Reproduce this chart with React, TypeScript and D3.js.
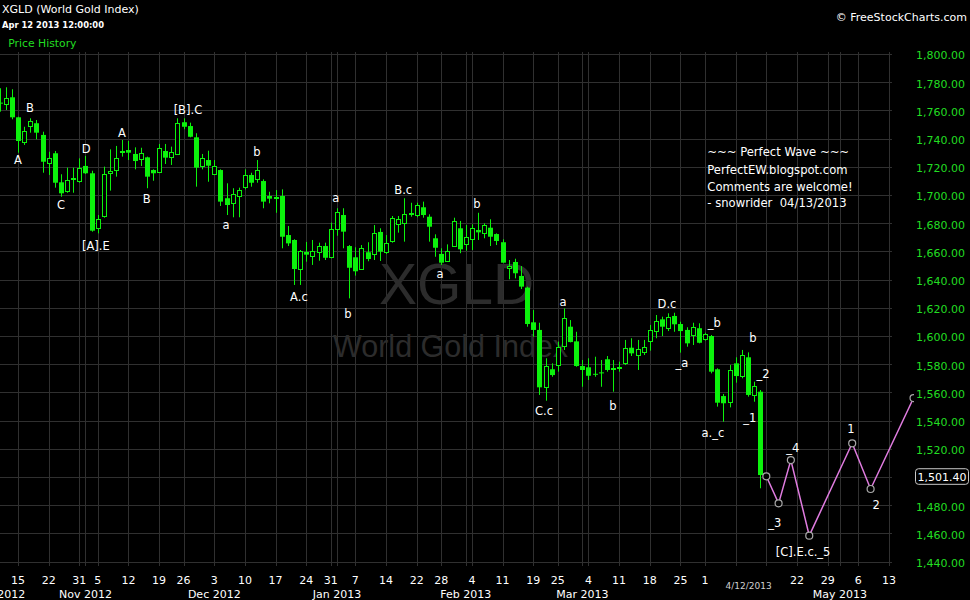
import React from "react";
import * as d3 from "d3";

// Session calendar (US market closures, incl. the Sandy shutdown)
const FIRST_SESSION = "2012-10-10";
const CALENDAR_END = "2013-05-20";
const MARKET_HOLIDAYS = [
  "2012-10-29", "2012-10-30", "2012-11-22", "2012-12-25",
  "2013-01-01", "2013-01-21", "2013-02-18", "2013-03-29",
];

// Daily OHLC from 2012-10-10 to 2013-04-12
const opens = [
  1765.5, 1764.3, 1769.3, 1755.1, 1737.8, 1749.1, 1750.9, 1742.6, 1722.5, 1729.6,
  1709.0, 1702.8, 1711.5, 1709.9, 1720.6, 1715.4, 1676.4, 1684.6, 1715.4, 1717.2,
  1730.3, 1731.9, 1729.1, 1725.3, 1726.7, 1717.7, 1716.1, 1731.2, 1727.2, 1729.1,
  1751.6, 1748.9, 1740.9, 1720.1, 1724.8, 1714.9, 1717.7, 1697.7, 1694.1, 1699.5,
  1705.5, 1714.2, 1711.3, 1709.9, 1699.3, 1698.3, 1699.3, 1671.6, 1668.1, 1647.7,
  1659.6, 1657.0, 1659.4, 1663.8, 1655.8, 1676.4, 1685.8, 1663.8, 1655.8, 1647.3,
  1659.4, 1658.2, 1673.8, 1659.4, 1666.9, 1679.2, 1679.9, 1686.5, 1686.0, 1691.3,
  1684.6, 1669.3, 1658.2, 1653.4, 1663.8, 1676.4, 1665.0, 1668.6, 1675.2, 1672.8,
  1676.8, 1672.3, 1666.5, 1648.0, 1652.5, 1642.6, 1634.3, 1609.7, 1604.3, 1564.0,
  1576.4, 1579.4, 1592.9, 1606.6, 1596.2, 1578.7, 1577.8, 1573.2, 1574.2, 1583.5,
  1576.8, 1577.8, 1580.6, 1591.7, 1586.5, 1588.9, 1596.7, 1603.5, 1611.8, 1605.5,
  1614.2, 1608.5, 1604.3, 1600.7, 1605.5, 1597.7, 1600.0, 1576.4, 1557.4, 1553.4,
  1580.6, 1571.6, 1584.9, 1558.2, 1560.5,
];
const highs = [
  1775.7, 1776.4, 1775.0, 1755.5, 1748.4, 1754.4, 1753.2, 1744.9, 1730.7, 1731.2,
  1714.7, 1719.4, 1719.4, 1726.0, 1727.7, 1717.2, 1685.8, 1720.1, 1732.4, 1734.8,
  1739.0, 1738.3, 1733.8, 1733.5, 1727.2, 1718.2, 1736.2, 1736.2, 1734.3, 1754.4,
  1754.4, 1751.3, 1743.8, 1729.1, 1731.4, 1724.8, 1718.2, 1708.3, 1704.8, 1705.2,
  1718.2, 1715.8, 1724.8, 1711.1, 1702.3, 1703.5, 1704.0, 1678.0, 1668.6, 1661.0,
  1666.7, 1668.1, 1666.2, 1666.2, 1680.4, 1690.6, 1690.6, 1664.5, 1662.9, 1664.5,
  1666.5, 1678.7, 1676.4, 1671.6, 1685.1, 1685.1, 1697.7, 1694.5, 1694.5, 1695.3,
  1686.3, 1672.1, 1662.2, 1665.0, 1683.9, 1681.6, 1678.7, 1679.2, 1687.4, 1679.9,
  1682.8, 1672.8, 1668.6, 1653.9, 1654.8, 1649.6, 1635.0, 1618.4, 1609.4, 1584.2,
  1580.6, 1596.0, 1619.6, 1611.3, 1603.0, 1583.0, 1584.2, 1585.3, 1583.0, 1585.8,
  1583.0, 1581.8, 1597.2, 1598.4, 1597.2, 1597.2, 1607.8, 1614.9, 1613.7, 1616.1,
  1616.5, 1610.1, 1606.2, 1609.4, 1609.0, 1602.3, 1600.7, 1577.1, 1558.9, 1579.4,
  1584.9, 1590.1, 1588.4, 1567.6, 1561.7,
];
const lows = [
  1759.1, 1760.3, 1753.7, 1730.0, 1735.5, 1744.2, 1739.5, 1715.8, 1714.2, 1705.2,
  1698.8, 1701.6, 1701.6, 1708.7, 1714.9, 1674.0, 1672.8, 1683.9, 1703.1, 1713.0,
  1727.2, 1724.8, 1718.2, 1720.6, 1704.8, 1710.1, 1715.8, 1722.0, 1721.3, 1728.4,
  1746.6, 1740.9, 1705.9, 1718.2, 1709.4, 1714.2, 1692.2, 1685.8, 1684.2, 1684.2,
  1704.0, 1705.9, 1708.7, 1690.6, 1694.1, 1687.4, 1662.2, 1663.8, 1636.2, 1636.2,
  1652.7, 1650.4, 1653.4, 1653.9, 1655.1, 1671.1, 1662.2, 1626.7, 1642.8, 1646.8,
  1653.0, 1653.9, 1653.2, 1658.2, 1666.2, 1673.3, 1666.9, 1684.6, 1684.2, 1683.9,
  1666.9, 1656.2, 1650.4, 1652.5, 1663.3, 1658.7, 1660.5, 1661.0, 1668.1, 1669.3,
  1663.8, 1664.5, 1652.0, 1640.2, 1640.9, 1633.3, 1606.6, 1599.5, 1558.2, 1554.1,
  1571.1, 1574.7, 1590.1, 1595.5, 1578.2, 1564.0, 1568.8, 1571.1, 1564.0, 1574.7,
  1560.5, 1574.7, 1579.4, 1585.8, 1575.9, 1586.5, 1589.6, 1598.4, 1600.0, 1603.5,
  1603.0, 1588.2, 1592.4, 1593.6, 1594.8, 1596.7, 1573.5, 1549.9, 1539.2, 1549.4,
  1566.9, 1570.0, 1557.0, 1553.4, 1492.0,
];
const closes = [
  1765.0, 1768.6, 1755.1, 1738.3, 1745.6, 1752.7, 1744.2, 1723.6, 1726.0, 1708.7,
  1701.2, 1710.6, 1712.0, 1718.9, 1715.4, 1674.7, 1682.8, 1714.7, 1717.0, 1726.0,
  1731.2, 1730.0, 1724.1, 1729.6, 1713.0, 1715.4, 1733.1, 1726.5, 1730.7, 1750.9,
  1748.4, 1741.3, 1719.4, 1726.0, 1720.8, 1720.8, 1695.3, 1692.9, 1700.5, 1703.5,
  1714.2, 1708.7, 1717.7, 1695.3, 1697.4, 1698.9, 1670.4, 1665.7, 1647.5, 1660.3,
  1657.7, 1660.3, 1663.8, 1655.5, 1675.7, 1688.2, 1674.0, 1648.4, 1645.9, 1662.2,
  1654.6, 1672.8, 1659.8, 1666.0, 1683.5, 1682.8, 1686.3, 1687.5, 1692.9, 1685.8,
  1677.5, 1662.6, 1652.0, 1660.5, 1681.3, 1661.5, 1670.0, 1676.4, 1673.5, 1678.7,
  1670.4, 1667.4, 1652.0, 1649.6, 1644.5, 1635.0, 1608.5, 1604.3, 1563.6, 1578.7,
  1572.3, 1592.4, 1612.6, 1595.7, 1578.7, 1575.9, 1571.8, 1572.8, 1573.7, 1575.9,
  1577.4, 1578.3, 1591.3, 1587.7, 1590.6, 1592.4, 1604.3, 1610.9, 1606.6, 1613.3,
  1608.3, 1603.5, 1594.8, 1606.6, 1595.2, 1601.2, 1574.7, 1552.7, 1552.3, 1575.9,
  1571.6, 1586.5, 1558.2, 1564.5, 1501.4,
];

// Price axis ticks
const priceTicks = [
  1440, 1460, 1480, 1500, 1520, 1540, 1560, 1580, 1600, 1620,
  1640, 1660, 1680, 1700, 1720, 1740, 1760, 1780, 1800,
];

// Projected wave path
const projectionDates = [
  "2013-04-15", "2013-04-17", "2013-04-19", "2013-04-24",
  "2013-05-03", "2013-05-08", "2013-05-17",
];
const projectionValues = [1500.5, 1481.3, 1512.0, 1458.4, 1523.9, 1491.5, 1556.0];

// Wave count labels: text, session slot (0 = first candle) and price
const waveTexts = [
  "A", "B", "C", "D", "[A].E", "A", "B", "[B].C", "a", "b",
  "A.c", "a", "b", "B.c", "a", "b", "C.c", "a", "b", "D.c",
  "_a", "_b", "a._c", "b", "_2", "_1", "_4", "_3", "[C].E.c._5", "1", "2",
];
const waveSlots = [
  3, 4.96, 10, 14.1, 15.7, 19.95, 24, 30.7, 36.9, 41.96,
  48.8, 54.8, 56.8, 65.8, 71.8, 77.8, 88.75, 91.85, 100, 108.8,
  111.25, 116.5, 116.3, 122.8, 124.45, 122.3, 129.3, 126.4, 131, 138.8, 142.9,
];
const waveValues = [
  1722.0, 1758.9, 1690.1, 1729.8, 1661.0, 1741.1, 1694.3, 1757.4, 1675.8, 1727.7,
  1624.8, 1694.7, 1612.8, 1700.7, 1641.1, 1690.8, 1544.0, 1621.3, 1547.5, 1619.9,
  1578.0, 1606.2, 1528.2, 1595.5, 1570.2, 1539.2, 1517.9, 1464.8, 1444.2, 1531.0, 1477.1,
];

const noteLines = [
  "~~~ Perfect Wave ~~~",
  "PerfectEW.blogspot.com",
  "Comments are welcome!",
  "- snowrider\u00a0 04/13/2013",
];

const GREEN = "#0cf20c";
const AXIS_GREEN = "#22dd22";
const GRID = "#303030";
const FONT = "DejaVu Sans";

const W = 970;
const H = 600;
const PLOT_RIGHT = 893;
const PLOT_TOP = 52;
const PLOT_BOTTOM = 566;

export default function App() {
  const parse = d3.timeParse("%Y-%m-%d");
  const key = d3.timeFormat("%Y-%m-%d");
  const closed = new Set(MARKET_HOLIDAYS);
  const sessions = d3
    .timeDays(parse(FIRST_SESSION)!, d3.timeDay.offset(parse(CALENDAR_END)!, 1))
    .filter((d) => d.getDay() % 6 !== 0 && !closed.has(key(d)));
  const slotOf = (s: string) => sessions.findIndex((d) => key(d) === s);

  const x = d3
    .scaleLinear()
    .domain([slotOf("2012-10-15"), slotOf("2013-05-13")])
    .range([18, 889]);
  const y = d3.scaleLinear().domain([1440, 1800]).range([561.6, 54]);
  const crisp = (v: number) => Math.round(v) + 0.5;

  // Week starts and month starts on the session axis
  const weekTicks: { slot: number; date: Date }[] = [];
  const monthTicks: { slot: number; date: Date }[] = [];
  sessions.forEach((d, k) => {
    if (k === 0) return;
    const prev = sessions[k - 1];
    if (+d3.timeMonday.floor(d) !== +d3.timeMonday.floor(prev)) weekTicks.push({ slot: k, date: d });
    if (d.getMonth() !== prev.getMonth()) monthTicks.push({ slot: k, date: d });
  });
  const inPlot = (px: number) => px >= 0 && px <= PLOT_RIGHT;
  const gridXs = Array.from(
    new Set([...weekTicks, ...monthTicks].map((t) => crisp(x(t.slot))).filter(inPlot))
  );

  const lastSlot = closes.length - 1;
  const lastClose = closes[lastSlot];
  const cursorX = x(lastSlot) - 11.5;
  const monthLabels = [{ slot: 0, date: sessions[0] }, ...monthTicks]
    .map((t) => ({ x: Math.max(x(t.slot), 0), text: d3.timeFormat("%b %Y")(t.date) }))
    .filter((t) => t.x <= PLOT_RIGHT && Math.abs(t.x - cursorX) > 60);
  const dayLabels = weekTicks
    .map((t) => ({ x: x(t.slot), text: String(t.date.getDate()) }))
    .filter((t) => inPlot(t.x) && Math.abs(t.x - cursorX) > 30);

  const projection = projectionDates.map((d, k) => [x(slotOf(d)), y(projectionValues[k])] as [number, number]);
  const projectionPath = d3.line()(projection) ?? "";
  const projEndX = projection[projection.length - 1][0];

  const fmtPrice = d3.format(",.2f");

  return (
    <svg
      width={W}
      height={H}
      style={{ position: "fixed", left: 0, top: 0, background: "#000", display: "block" }}
      fontFamily={FONT}
    >
      <defs>
        <clipPath id="plot-clip">
          <rect x={0} y={PLOT_TOP} width={PLOT_RIGHT} height={PLOT_BOTTOM - PLOT_TOP} />
        </clipPath>
        <clipPath id="proj-clip">
          <rect x={0} y={PLOT_TOP} width={projEndX + 0.5} height={PLOT_BOTTOM - PLOT_TOP} />
        </clipPath>
      </defs>
      <rect width={W} height={H} fill="#000" />

      {/* grid */}
      <g stroke={GRID} strokeWidth={1}>
        {priceTicks.map((v) => (
          <line key={`h${v}`} x1={0} x2={PLOT_RIGHT - 1} y1={crisp(y(v))} y2={crisp(y(v))} />
        ))}
        {gridXs.map((gx) => (
          <line key={`v${gx}`} x1={gx} x2={gx} y1={PLOT_TOP} y2={PLOT_BOTTOM} />
        ))}
      </g>

      {/* watermark */}
      <text x={456.5} y={303.5} textAnchor="middle" fontFamily="Liberation Sans" fontSize={57} fill="#2c2c2c">
        XGLD
      </text>
      <text x={333} y={356.5} fontFamily="Liberation Sans" fontSize={30.5} fill="#2c2c2c">
        World Gold Index
      </text>

      {/* candles */}
      <g clipPath="url(#plot-clip)">
        {opens.map((o, i) => {
          const c = closes[i];
          const cx = crisp(x(i));
          const top = y(Math.max(o, c));
          const bot = y(Math.min(o, c));
          const hgt = Math.max(bot - top, 1);
          const rising = c > o;
          return (
            <g key={i}>
              <line x1={cx} x2={cx} y1={y(highs[i])} y2={y(lows[i])} stroke={GREEN} strokeWidth={1} />
              {rising ? (
                <rect x={cx - 2} y={Math.round(top) + 0.5} width={4} height={Math.max(Math.round(hgt), 1)} fill="#000" stroke={GREEN} strokeWidth={1} />
              ) : (
                <rect x={cx - 2.5} y={top} width={5} height={hgt} fill={GREEN} />
              )}
            </g>
          );
        })}
      </g>

      {/* projected path */}
      <g clipPath="url(#proj-clip)">
        <path d={projectionPath} fill="none" stroke="#e07ce0" strokeWidth={1.5} />
        {projection.map(([px, py], k) => (
          <circle key={k} cx={px} cy={py} r={3.5} fill="#000" stroke="#a8a8a8" strokeWidth={1.2} />
        ))}
      </g>

      {/* wave labels */}
      <g fill="#fff" fontSize={11.5} textAnchor="middle">
        {waveTexts.map((t, k) => (
          <text key={k} x={x(waveSlots[k])} y={y(waveValues[k])}>
            {t}
          </text>
        ))}
      </g>

      {/* notes */}
      <g fill="#fff" fontSize={11.6}>
        {noteLines.map((t, k) => (
          <text key={k} x={707.3} y={[156, 174, 190.7, 207.3][k]} style={{ whiteSpace: "pre" }}>
            {t}
          </text>
        ))}
      </g>

      {/* header */}
      <text x={2} y={13.3} fill="#fff" fontSize={11}>XGLD (World Gold Index)</text>
      <text x={2} y={28.3} fill="#fff" fontSize={8.4} fontWeight="bold">Apr 12 2013 12:00:00</text>
      <text x={8.3} y={46.5} fill={AXIS_GREEN} fontSize={10.8}>Price History</text>
      <text x={967} y={20.5} fill="#fff" fontSize={11} textAnchor="end">© FreeStockCharts.com</text>

      {/* price axis */}
      <g fill={AXIS_GREEN} fontSize={11} textAnchor="end">
        {priceTicks.map((v) => (
          <text key={v} x={965} y={y(v) + 5.3}>
            {fmtPrice(v)}
          </text>
        ))}
      </g>
      <rect x={915.5} y={y(lastClose) - 6.3} width={53} height={15.6} rx={3} fill="#000" stroke="#c8c8c8" strokeWidth={1} />
      <text x={942} y={y(lastClose) + 5.6} fill="#fff" fontSize={11} textAnchor="middle">
        {fmtPrice(lastClose)}
      </text>

      {/* date axis */}
      <g fill="#fff" fontSize={11} textAnchor="middle">
        {dayLabels.map((t) => (
          <text key={`d${t.x}`} x={t.x} y={584}>
            {t.text}
          </text>
        ))}
        {monthLabels.map((t) => (
          <text key={`m${t.x}`} x={t.x} y={597.5}>
            {t.text}
          </text>
        ))}
      </g>
      <text x={cursorX} y={589} fill="#cfcfcf" fontSize={9} textAnchor="middle">
        {d3.timeFormat("%-m/%-d/%Y")(sessions[lastSlot])}
      </text>
    </svg>
  );
}
